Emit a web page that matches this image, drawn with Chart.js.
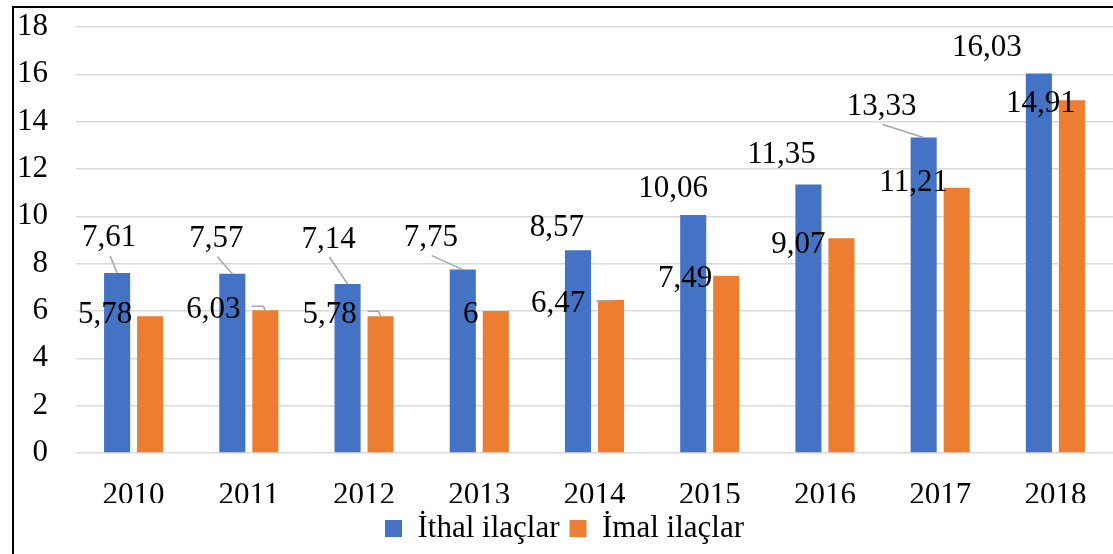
<!DOCTYPE html>
<html>
<head>
<meta charset="utf-8">
<script src="https://cdn.jsdelivr.net/npm/chart.js@4.4.1/dist/chart.umd.min.js"></script>
<style>
  html, body { margin:0; padding:0; background:#fff; }
  #wrap { position:relative; width:1113px; height:554px; }
</style>
</head>
<body>
<div id="wrap"><canvas id="chart"></canvas></div>
<script>
// values
const years = ['2010','2011','2012','2013','2014','2015','2016','2017','2018'];
const ithalValues = [7.61, 7.57, 7.14, 7.75, 8.57, 10.06, 11.35, 13.33, 16.03];
const imalValues  = [5.78, 6.03, 5.78, 6, 6.47, 7.49, 9.07, 11.21, 14.91];
const seriesNames = ['İthal ilaçlar', 'İmal ilaçlar'];
const yMin = 0, yMax = 18, yStep = 2;

// label placement (offset of label centre from bar top, in px) + leader style
const ithalLabelPos = [
  [-8,-37,'line'],[-16,-37,'line'],[-19,-47,'line'],[-32,-34,'line'],[-21,-25,''],
  [-20,-28,''],[-27,-32,''],[-42,-33,'line'],[-52,-28,'']
];
const imalLabelPos = [
  [-45,-4,''],[-52,-3,'elbow'],[-51,-4,'elbow'],[-25,1,''],[-53,2,'elbow'],
  [-41,1,''],[-43,4,''],[-43,-7,''],[-31,1,'']
];

const FONT = "'Liberation Serif', 'Times New Roman', serif";
const BLUE = '#4472C4', ORANGE = '#ED7D31';

function fmt(v){ return String(v).replace('.', ','); }

// frame around the picture (cut off at right and bottom like the source)
const framePlugin = {
  id:'frame',
  beforeDraw(chart){
    const c = chart.ctx;
    c.save();
    c.fillStyle = '#fff';
    c.fillRect(0,0,chart.width,chart.height);
    c.strokeStyle = '#000';
    c.lineWidth = 2;
    c.beginPath();
    c.moveTo(13, chart.height); c.lineTo(13, 7); c.lineTo(chart.width, 7);
    c.stroke();
    c.restore();
  }
};

// data labels with excel-like leader lines
const labelPlugin = {
  id:'barLabels',
  afterDatasetsDraw(chart){
    const c = chart.ctx;
    const layouts = [ithalLabelPos, imalLabelPos];
    c.save();
    c.font = '31px ' + FONT;
    c.textAlign = 'center';
    c.textBaseline = 'alphabetic';
    chart.data.datasets.forEach((ds, di)=>{
      const meta = chart.getDatasetMeta(di);
      meta.data.forEach((bar, i)=>{
        const [dx, dy, leader] = layouts[di][i];
        const txt = fmt(ds.data[i]);
        const cx = bar.x + dx, cy = bar.y + dy;
        const w = c.measureText(txt).width;
        c.strokeStyle = '#A6A6A6';
        c.lineWidth = 1.5;
        if(leader === 'line'){
          c.beginPath(); c.moveTo(cx + 1, cy + 20); c.lineTo(bar.x, bar.y); c.stroke();
        } else if(leader === 'elbow'){
          c.beginPath();
          c.moveTo(cx + w/2 + 11, cy - 1);
          c.lineTo(bar.x - 2, cy - 1);
          c.lineTo(bar.x, bar.y);
          c.stroke();
        }
        c.fillStyle = '#000';
        c.fillText(txt, cx, cy + 10.5);
      });
    });
    c.restore();
  }
};

new Chart(document.getElementById('chart'), {
  type:'bar',
  data:{
    labels: years,
    datasets:[
      {label: seriesNames[0], data: ithalValues, backgroundColor: BLUE,
       barPercentage:0.79, categoryPercentage:0.573},
      {label: seriesNames[1], data: imalValues, backgroundColor: ORANGE,
       barPercentage:0.79, categoryPercentage:0.573}
    ]
  },
  options:{
    responsive:true,
    maintainAspectRatio:false,
    animation:false,
    layout:{ padding:{ left:16, right:0, top:27, bottom:0 } },
    plugins:{
      tooltip:{ enabled:false },
      legend:{
        position:'bottom',
        labels:{ boxWidth:17, boxHeight:17, padding:10, color:'#000',
                 font:{ family:FONT, size:31 } }
      }
    },
    scales:{
      x:{
        grid:{ display:false },
        border:{ display:false },
        ticks:{ color:'#000', font:{ family:FONT, size:31 }, padding:16,
                autoSkip:false, maxRotation:0 },
        afterFit(s){ s.height = 50; s.paddingLeft = 0; s.paddingRight = 0; }
      },
      y:{
        min:yMin, max:yMax,
        grid:{ color:'#D9D9D9', lineWidth:1.5, drawTicks:false },
        border:{ display:false },
        ticks:{ stepSize:yStep, color:'#000', font:{ family:FONT, size:31 }, padding:28 },
        afterFit(s){ s.width = 60; s.paddingTop = 0; s.paddingBottom = 0; }
      }
    }
  },
  plugins:[framePlugin, labelPlugin]
});
</script>
</body>
</html>
